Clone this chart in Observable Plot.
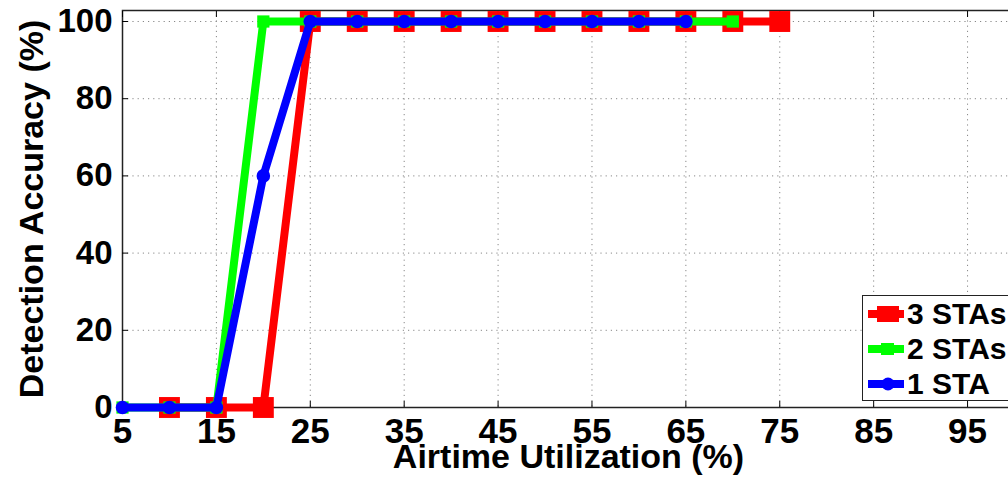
<!DOCTYPE html>
<html>
<head>
<meta charset="utf-8">
<script src="https://cdn.jsdelivr.net/npm/d3@7"></script>
<script src="https://cdn.jsdelivr.net/npm/@observablehq/plot@0.6"></script>
<style>
  html, body { margin: 0; padding: 0; background: white; overflow: hidden; }
  #wrap { position: relative; width: 1008px; height: 480px; overflow: hidden; }
  .legend { position: absolute; left: 862px; top: 295px; width: 160px; height: 106px;
    border: 1.5px solid #222; background: white; font-family: "Liberation Sans", Arial, sans-serif;
    font-weight: bold; font-size: 30px; box-sizing: border-box; }
  .row { position: absolute; left: 0; height: 34px; display: flex; align-items: center; }
  .row svg { display: block; }
  .row span { margin-left: 2px; color: black; line-height: 30px; }
</style>
</head>
<body>
<div id="wrap"></div>
<script>
// ---- data ----
const seriesNames = ["3 STAs", "2 STAs", "1 STA"];
const seriesColors = ["#ff0000", "#00ff00", "#0000ff"];
const util3 = [10, 15, 20, 25, 30, 35, 40, 45, 50, 55, 60, 65, 70, 75];
const acc3  = [0, 0, 0, 100, 100, 100, 100, 100, 100, 100, 100, 100, 100, 100];
const util2 = [5, 10, 15, 20, 25, 30, 35, 40, 45, 50, 55, 60, 65, 70];
const acc2  = [0, 0, 0, 100, 100, 100, 100, 100, 100, 100, 100, 100, 100, 100];
const util1 = [5, 10, 15, 20, 25, 30, 35, 40, 45, 50, 55, 60, 65];
const acc1  = [0, 0, 0, 60, 100, 100, 100, 100, 100, 100, 100, 100, 100];
const xTicks = [5, 15, 25, 35, 45, 55, 65, 75, 85, 95];
const yTicks = [0, 20, 40, 60, 80, 100];
const xTitle = "Airtime Utilization (%)";
const yTitle = "Detection Accuracy (%)";

const mk = (u, a, name) => u.map((v, i) => ({util: v, acc: a[i], name}));
const d3s = mk(util3, acc3, seriesNames[0]);
const d2s = mk(util2, acc2, seriesNames[1]);
const d1s = mk(util1, acc1, seriesNames[2]);

const font = "'Liberation Sans', Arial, sans-serif";

const chart = Plot.plot({
  width: 1008,
  height: 480,
  marginLeft: 122,
  marginRight: -6,
  marginTop: 10,
  marginBottom: 73,
  x: {domain: [5, 100], label: null},
  y: {domain: [0, 102.85], label: null},
  style: {fontFamily: font, fontWeight: "bold", background: "white", color: "black"},
  marks: [
    Plot.gridX(xTicks, {stroke: "#888", strokeOpacity: 1, strokeDasharray: "1.2,4"}),
    Plot.gridY(yTicks, {stroke: "#888", strokeOpacity: 1, strokeDasharray: "1.2,4"}),
    Plot.frame({stroke: "#222", strokeWidth: 1.5}),
    Plot.axisX(xTicks, {anchor: "bottom", tickSize: 0, tickPadding: 11, fontSize: 35, fontWeight: "bold", fill: "black", label: null}),
    Plot.axisY(yTicks, {anchor: "left", tickSize: 0, tickPadding: 10, fontSize: 33, fontWeight: "bold", fill: "black", label: null}),
    Plot.axisX(xTicks, {anchor: "bottom", tickSize: -6, fill: "none", stroke: "black", label: null}),
    Plot.axisX(xTicks, {anchor: "top", tickSize: -6, fill: "none", stroke: "black", label: null}),
    Plot.axisY(yTicks, {anchor: "left", tickSize: -6, fill: "none", stroke: "black", label: null}),
    Plot.axisY(yTicks, {anchor: "right", tickSize: -6, fill: "none", stroke: "black", label: null}),
    // 3 STAs
    Plot.line(d3s, {x: "util", y: "acc", stroke: seriesColors[0], strokeWidth: 8, strokeLinejoin: "miter"}),
    Plot.dot(d3s, {x: "util", y: "acc", symbol: "square", r: 11.8, fill: seriesColors[0], stroke: "none"}),
    // 2 STAs
    Plot.line(d2s, {x: "util", y: "acc", stroke: seriesColors[1], strokeWidth: 8, strokeLinejoin: "miter"}),
    Plot.dot(d2s, {x: "util", y: "acc", symbol: "square", r: 6.9, fill: seriesColors[1], stroke: "none"}),
    // 1 STA
    Plot.line(d1s, {x: "util", y: "acc", stroke: seriesColors[2], strokeWidth: 8, strokeLinejoin: "miter"}),
    Plot.dot(d1s, {x: "util", y: "acc", symbol: "circle", r: 6.8, fill: seriesColors[2], stroke: "none"}),
    // titles
    Plot.text([xTitle], {frameAnchor: "bottom", dy: 60, lineAnchor: "bottom", fontSize: 34, fontWeight: "bold", fill: "black"}),
    Plot.text([yTitle], {frameAnchor: "left", dx: -90, rotate: -90, textAnchor: "middle", lineAnchor: "middle", fontSize: 34, fontWeight: "bold", fill: "black"})
  ]
});
const wrap = document.getElementById("wrap");
wrap.appendChild(chart);

// legend
const legend = document.createElement("div");
legend.className = "legend";
const markerFor = i => {
  if (i === 0) return `<rect x="14" y="6" width="22" height="16" fill="${seriesColors[0]}"/>`;
  if (i === 1) return `<rect x="18" y="8" width="13" height="12" fill="${seriesColors[1]}"/>`;
  return `<circle cx="25" cy="14" r="6.5" fill="${seriesColors[2]}"/>`;
};
seriesNames.forEach((name, i) => {
  const row = document.createElement("div");
  row.className = "row";
  row.style.top = (1 + i * 35) + "px";
  row.innerHTML = `<svg width="42" height="28" viewBox="0 0 42 28"><line x1="5" x2="41" y1="14" y2="14" stroke="${seriesColors[i]}" stroke-width="8"/>${markerFor(i)}</svg><span>${name}</span>`;
  legend.appendChild(row);
});
wrap.appendChild(legend);
</script>
</body>
</html>
